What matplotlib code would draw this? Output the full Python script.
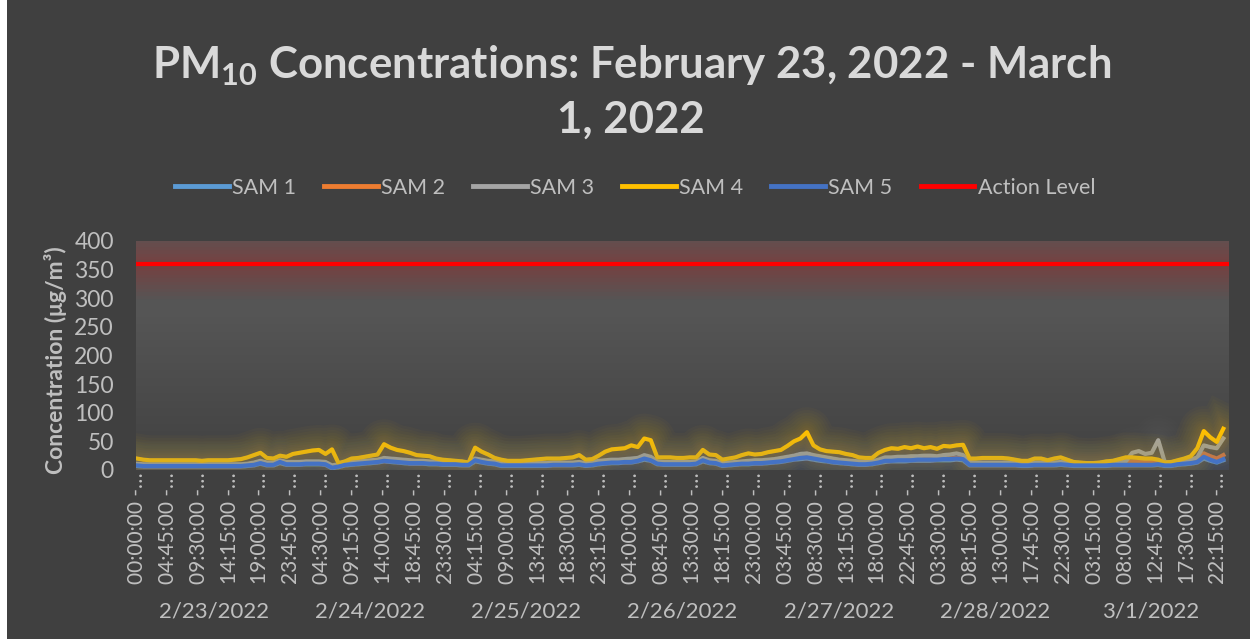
import numpy as np
import matplotlib.pyplot as plt
import matplotlib.patheffects as pe
from matplotlib.lines import Line2D
from matplotlib.patches import Rectangle
from matplotlib.colors import LinearSegmentedColormap

plt.rcParams['font.family'] = ['Lato', 'DejaVu Sans']
plt.rcParams['mathtext.fontset'] = 'custom'
plt.rcParams['mathtext.rm'] = 'Lato'
plt.rcParams['mathtext.bf'] = 'Lato:bold'

# hourly PM10 readings (ug/m3), one row per day: 2/23 ... 3/1
sam1 = [7, 6, 6, 6, 6, 6, 6, 6, 6, 6, 6, 6, 6, 6, 6, 6, 6, 7, 8, 11, 8, 8, 12, 9,
        9, 9, 10, 10, 10, 9, 3, 5, 8, 9, 10, 11, 12, 13, 15, 14, 13, 12, 11, 11, 11, 10, 10, 9,
        9, 9, 8, 8, 15, 13, 11, 10, 7, 7, 7, 7, 7, 7, 7, 7, 8, 8, 8, 8, 9, 7, 8, 10,
        11, 12, 12, 13, 13, 15, 18, 16, 10, 9, 9, 9, 9, 9, 10, 15, 12, 11, 7, 8, 9, 10, 10, 11,
        11, 12, 13, 14, 16, 18, 19, 20, 18, 16, 15, 13, 12, 11, 10, 9, 9, 10, 12, 14, 15, 15, 15, 16,
        16, 16, 16, 17, 17, 17, 18, 17, 8, 8, 8, 8, 8, 8, 8, 8, 7, 7, 8, 8, 8, 8, 9, 8,
        7, 7, 7, 7, 7, 7, 8, 8, 8, 8, 8, 8, 8, 9, 7, 7, 9, 10, 11, 13, 20, 16, 13, 17]
sam2 = [9, 8, 8, 8, 8, 8, 8, 8, 8, 8, 8, 8, 8, 8, 8, 8, 8, 9, 10, 13, 10, 10, 15, 11,
        11, 11, 12, 12, 12, 11, 5, 7, 10, 11, 12, 13, 14, 15, 17, 16, 15, 14, 13, 13, 13, 12, 12, 11,
        11, 11, 10, 10, 18, 15, 13, 12, 9, 9, 9, 9, 9, 9, 9, 9, 10, 10, 10, 10, 11, 9, 10, 12,
        13, 14, 14, 15, 15, 17, 21, 18, 12, 11, 11, 11, 11, 11, 12, 18, 14, 13, 9, 10, 11, 12, 12, 13,
        13, 14, 15, 16, 18, 20, 22, 23, 21, 19, 17, 15, 14, 13, 12, 11, 11, 12, 14, 17, 17, 18, 18, 18,
        19, 19, 19, 19, 20, 20, 21, 20, 10, 10, 10, 10, 10, 10, 10, 10, 9, 9, 10, 10, 10, 10, 11, 10,
        10, 10, 10, 11, 12, 13, 14, 14, 14, 15, 15, 15, 14, 14, 13, 13, 14, 15, 17, 20, 29, 24, 20, 26]
sam3 = [11, 10, 10, 10, 10, 10, 10, 10, 10, 10, 10, 10, 10, 10, 10, 10, 10, 11, 13, 16, 13, 13, 17, 14,
        14, 14, 15, 15, 15, 14, 8, 10, 13, 14, 15, 16, 17, 18, 21, 20, 19, 18, 17, 16, 16, 15, 15, 14,
        14, 13, 13, 12, 20, 18, 16, 15, 12, 12, 12, 12, 12, 12, 12, 12, 13, 13, 13, 13, 14, 12, 14, 16,
        17, 18, 18, 19, 20, 21, 26, 23, 15, 14, 14, 14, 14, 14, 15, 21, 17, 16, 12, 13, 14, 15, 16, 17,
        17, 18, 19, 21, 23, 25, 28, 29, 26, 24, 22, 20, 18, 17, 16, 15, 14, 15, 18, 22, 22, 23, 23, 24,
        24, 25, 25, 24, 26, 27, 29, 26, 14, 13, 13, 13, 13, 13, 13, 13, 12, 12, 13, 13, 13, 13, 14, 13,
        12, 12, 12, 12, 12, 12, 13, 14, 15, 30, 33, 28, 30, 52, 14, 13, 14, 16, 18, 22, 43, 40, 38, 55]
sam4 = [20, 18, 17, 17, 17, 17, 17, 17, 17, 17, 16, 17, 17, 17, 17, 18, 19, 22, 26, 30, 21, 20, 25, 23,
        28, 30, 32, 34, 35, 28, 36, 12, 15, 20, 21, 23, 25, 27, 45, 39, 35, 33, 30, 26, 25, 24, 20, 18,
        17, 16, 15, 13, 39, 32, 27, 21, 18, 16, 16, 16, 17, 18, 19, 20, 20, 20, 21, 22, 26, 18, 19, 25,
        32, 36, 37, 38, 43, 40, 55, 52, 22, 22, 22, 21, 21, 22, 22, 35, 27, 26, 18, 20, 22, 26, 29, 27,
        28, 31, 33, 35, 42, 50, 55, 66, 43, 36, 33, 32, 31, 28, 26, 22, 21, 21, 30, 35, 38, 37, 40, 38,
        41, 38, 40, 37, 42, 41, 43, 44, 20, 20, 21, 21, 21, 21, 20, 18, 16, 16, 20, 20, 17, 20, 22, 18,
        14, 13, 12, 12, 13, 15, 16, 19, 22, 22, 21, 20, 20, 18, 13, 14, 17, 20, 24, 38, 68, 57, 49, 72]
sam5 = [8, 7, 7, 7, 7, 7, 7, 7, 7, 7, 7, 7, 7, 7, 7, 7, 7, 8, 9, 12, 9, 9, 14, 10,
        10, 10, 11, 11, 11, 10, 4, 6, 9, 10, 11, 12, 13, 14, 16, 15, 14, 13, 12, 12, 12, 11, 11, 10,
        10, 10, 9, 9, 17, 14, 12, 11, 8, 8, 8, 8, 8, 8, 8, 8, 9, 9, 9, 9, 10, 8, 9, 11,
        12, 13, 13, 14, 14, 16, 20, 17, 11, 10, 10, 10, 10, 10, 11, 17, 13, 12, 8, 9, 10, 11, 11, 12,
        12, 13, 14, 15, 17, 19, 21, 22, 20, 18, 16, 14, 13, 12, 11, 10, 10, 11, 13, 16, 16, 17, 17, 17,
        18, 18, 18, 18, 19, 19, 20, 19, 9, 9, 9, 9, 9, 9, 9, 9, 8, 8, 9, 9, 9, 9, 10, 9,
        8, 8, 8, 8, 8, 8, 9, 9, 9, 9, 9, 9, 9, 10, 8, 8, 10, 11, 12, 14, 23, 18, 14, 19]
action_level = 360

series_names = ['SAM 1', 'SAM 2', 'SAM 3', 'SAM 4', 'SAM 5']
series_colors = ['#5B9BD5', '#ED7D31', '#A5A5A5', '#FFC000', '#4472C4']

dates = ['2/23/2022', '2/24/2022', '2/25/2022', '2/26/2022', '2/27/2022', '2/28/2022', '3/1/2022']
tick_times = ['00:00:00', '04:45:00', '09:30:00', '14:15:00', '19:00:00', '23:45:00',
              '04:30:00', '09:15:00', '14:00:00', '18:45:00', '23:30:00',
              '04:15:00', '09:00:00', '13:45:00', '18:30:00', '23:15:00',
              '04:00:00', '08:45:00', '13:30:00', '18:15:00', '23:00:00',
              '03:45:00', '08:30:00', '13:15:00', '18:00:00', '22:45:00',
              '03:30:00', '08:15:00', '13:00:00', '17:45:00', '22:30:00',
              '03:15:00', '08:00:00', '12:45:00', '17:30:00', '22:15:00']

N_SLOTS = 672  # 15 minute slots over 7 days
x = np.arange(len(sam4)) * 4  # one reading per hour

txt = '#bfbfbf'
fig = plt.figure(figsize=(12.5, 6.39), dpi=100, facecolor='#404040')
ax = fig.add_axes([0.1088, 0.2645, 0.8744, 0.3584])

# white strip on the left edge of the image
fig.patches.append(Rectangle((0, 0), 7 / 1250, 1, transform=fig.transFigure,
                             facecolor='white', edgecolor='none', zorder=-1))

# plot area gradient
cmap = LinearSegmentedColormap.from_list('bg', ['#414141', '#4b4b4b', '#555555', '#585858'])
ax.imshow(np.linspace(0, 1, 256)[:, None], cmap=cmap, origin='lower', aspect='auto',
          extent=[-0.5, N_SLOTS - 0.5, 0, 400], zorder=0)


def glow(color, alpha, widths):
    return [pe.Stroke(linewidth=w, foreground=color, alpha=alpha) for w in widths] + [pe.Normal()]


glow_widths = [36, 32, 28, 24, 20, 16, 13, 10, 7]
data = [sam1, sam2, sam3, sam4, sam5]
glow_alpha = [0.012, 0.012, 0.018, 0.028, 0.018]
for vals, c, ga in zip(data, series_colors, glow_alpha):
    ax.plot(x, vals, color=c, lw=3.0, solid_joinstyle='round', zorder=3,
            path_effects=glow(c, ga, glow_widths))

ax.axhline(action_level, color='#FF0000', lw=3.0, zorder=4,
           path_effects=glow('#FF0000', 0.022, [50, 45, 40, 35, 30, 25, 20, 15, 10, 6]))

ax.set_xlim(-0.5, N_SLOTS - 0.5)
ax.set_ylim(0, 400)
ax.set_yticks(np.arange(0, 401, 50))
ax.set_xticks(np.arange(0, N_SLOTS, 19))
ax.set_xticklabels([t + ' -…' for t in tick_times], rotation=90)
ax.tick_params(axis='x', length=0, pad=2, labelsize=15, labelcolor=txt)
ax.tick_params(axis='y', length=0, pad=16, labelsize=16.5, labelcolor=txt)
for s in ax.spines.values():
    s.set_visible(False)

for i, d in enumerate(dates):
    ax.text(i * 96 + 47.5, -0.62, d, transform=ax.get_xaxis_transform(),
            ha='center', va='center', fontsize=16, color=txt)

ax.set_ylabel('Concentration (μg/m³)', fontsize=16.5, fontweight='bold', color=txt)
ax.yaxis.set_label_coords(-0.063, 0.48)

fig.text(0.505, 0.857, 'PM$_{\\mathbf{10}}$ Concentrations: February 23, 2022 - March\n1, 2022',
         ha='center', va='center', fontsize=31.5, fontweight='bold', color='#d9d9d9',
         linespacing=1.35)

handles = [Line2D([], [], color=c, lw=3.5) for c in series_colors]
handles.append(Line2D([], [], color='#FF0000', lw=3.5))
fig.legend(handles, series_names + ['Action Level'], loc='center', bbox_to_anchor=(0.508, 0.706),
           ncol=6, frameon=False, fontsize=15.5, labelcolor=txt, handlelength=2.5,
           handletextpad=0.15, columnspacing=1.3)

fig.savefig('out.png', dpi=100, facecolor=fig.get_facecolor())
